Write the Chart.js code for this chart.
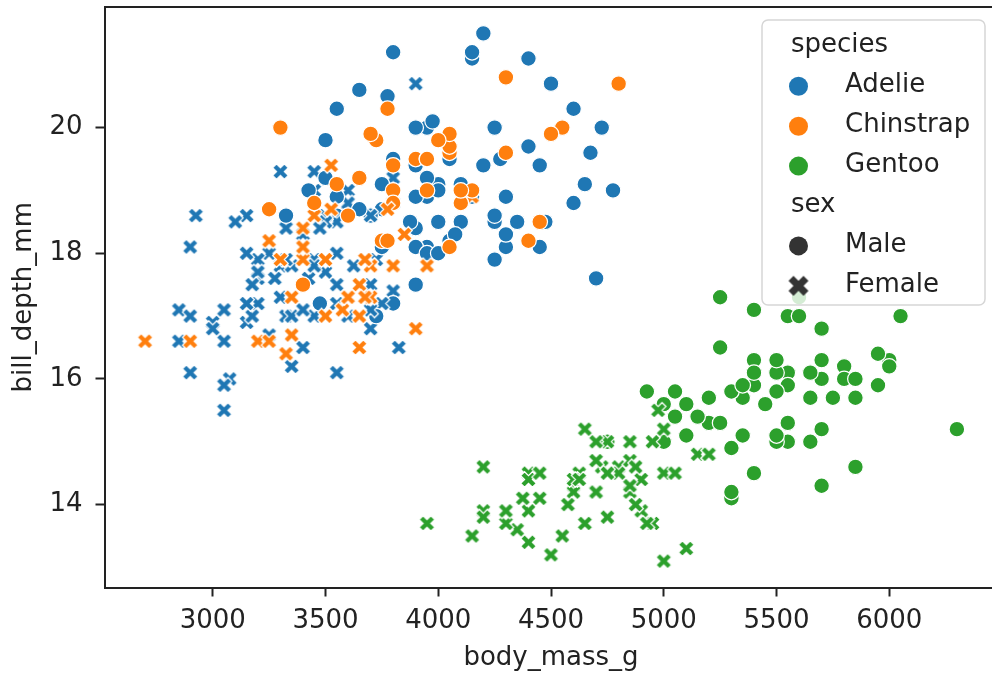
<!DOCTYPE html>
<html>
<head>
    <title>Penguins scatter</title>
    <script src="https://cdn.jsdelivr.net/npm/chart.js"></script>
    <style>
        html, body {
            margin: 0;
            padding: 0;
            background: #fff;
            overflow: hidden;
        }
        .viewport {
            width: 992px;
            height: 679px;
            overflow: hidden;
        }
        /* a little wider than the page: the right spine falls just outside, as in the reference */
        .chart-container {
            position: relative;
            width: 1000px;
            height: 679px;
        }
    </style>
</head>
<body>
    <div class="viewport">
        <div class="chart-container">
            <canvas id="penguinChart"></canvas>
        </div>
    </div>

    <script>
        // Adelie (rows with missing sex are left out, as in the reference)
        const adelieMass = [3750,3800,3250,3450,3650,3625,4675,3200,3800,4400,
            3700,3450,4500,3325,4200,3400,3600,3800,3950,3800,
            3800,3550,3200,3150,3950,3250,3900,3300,3900,3325,
            4150,3950,3550,3300,4650,3150,3900,3100,4400,3000,
            4600,3425,3450,4150,3500,4300,3450,4050,2900,3700,
            3550,3800,2850,3750,3150,4400,3600,4050,2850,3950,
            3350,4100,3050,4450,3600,3900,3550,4150,3700,4250,
            3700,3900,3550,4000,3200,4700,3800,4200,3350,3550,
            3800,3500,3950,3600,3550,4300,3400,4450,3300,4300,
            3700,4350,2900,4100,3725,4725,3075,4250,2925,3550,
            3750,3900,3175,4775,3825,4600,3200,4275,3900,4075,
            2900,3775,3350,3325,3150,3500,3450,3875,3050,4000,
            3275,4300,3050,4000,3325,3500,3500,4475,3425,3900,
            3175,3975,3400,4250,3400,3475,3050,3725,3000,3650,
            4250,3475,3450,3750,3700,4000];
        const adelieDepth = [18.7,17.4,18.0,19.3,20.6,17.8,19.6,17.6,21.2,21.1,
            17.8,19.0,20.7,18.4,21.5,18.3,18.7,19.2,18.1,17.2,
            18.9,18.6,17.9,18.6,18.9,16.7,18.1,17.8,18.9,17.0,
            21.1,20.0,18.5,19.3,19.1,18.0,18.4,18.5,19.7,16.9,
            18.8,19.0,17.9,21.2,17.7,18.9,17.9,19.5,18.1,18.6,
            17.5,18.8,16.6,19.1,16.9,21.1,17.0,18.2,17.1,18.0,
            16.2,19.1,16.6,19.4,19.0,18.4,17.2,18.9,17.5,18.5,
            16.8,19.4,16.1,19.1,17.2,17.6,18.8,19.4,17.8,20.3,
            19.5,18.6,19.2,18.8,18.0,18.1,17.1,18.1,17.3,18.9,
            18.6,18.5,16.1,18.5,17.9,20.0,16.0,20.0,18.6,18.9,
            17.2,20.0,17.0,19.0,16.5,20.3,17.7,19.5,20.7,18.3,
            17.0,20.5,17.0,18.6,17.2,19.8,17.0,18.5,15.9,19.0,
            17.6,18.3,17.1,18.0,17.9,19.2,18.5,18.5,17.6,17.5,
            17.5,20.1,16.5,17.9,17.1,17.2,15.5,17.0,16.8,18.7,
            18.6,18.4,17.8,18.1,17.1,18.5];
        const adelieSex = ['M','F','F','F','M','F','M','F','M','M',
            'F','F','M','F','M','F','M','F','M','M',
            'F','M','F','F','M','F','M','F','M','F',
            'M','M','F','F','M','F','M','F','M','F',
            'M','M','F','M','F','M','F','M','F','M',
            'F','M','F','M','F','M','F','M','F','M',
            'F','M','F','M','F','M','F','M','F','M',
            'F','M','F','M','F','M','F','M','F','M',
            'M','F','M','F','F','M','F','M','F','M',
            'F','M','F','M','F','M','F','M','F','M',
            'F','M','F','M','F','M','F','M','F','M',
            'F','M','F','M','F','M','F','M','F','M',
            'F','M','F','M','F','M','F','M','F','M',
            'F','M','F','M','F','M','F','M','F','M',
            'M','F','F','M','F','M'];

        // Chinstrap
        const chinstrapMass = [3500,3900,3650,3525,3725,3950,3250,3750,4150,3700,
            3800,3775,3700,4050,3575,4050,3300,3700,3450,4400,
            3600,3400,2900,3800,3300,4150,3400,3800,3700,4550,
            3200,4300,3350,4100,3600,3900,3850,4800,2700,4500,
            3950,3650,3550,3500,3675,4450,3400,4300,3250,3675,
            3325,3950,3600,4050,3350,3450,3250,4050,3800,3525,
            3950,3650,3650,4000,3400,3775,4100,3775];
        const chinstrapDepth = [17.9,19.5,19.2,18.7,19.8,17.8,18.2,18.2,18.9,19.9,
            17.8,20.3,17.3,18.1,17.1,19.6,20.0,17.8,18.6,18.2,
            17.3,17.5,16.6,19.4,17.9,19.0,18.4,19.0,17.8,20.0,
            16.6,20.8,16.7,18.8,18.6,16.8,18.3,20.7,16.6,19.9,
            19.5,17.5,19.1,17.0,17.9,18.5,17.9,19.6,18.7,17.3,
            16.4,19.0,17.3,19.7,17.3,18.8,16.6,19.9,18.8,19.4,
            19.5,16.5,17.0,19.8,18.1,18.2,19.0,18.7];
        const chinstrapSex = ['F','M','M','F','M','F','F','M','F','M',
            'F','M','F','M','F','M','M','F','F','M',
            'F','M','F','M','F','M','F','M','F','M',
            'F','M','F','M','M','F','F','M','F','M',
            'M','F','M','F','F','M','F','M','M','F',
            'F','M','F','M','F','M','F','M','M','F',
            'M','F','F','M','F','M','M','F'];

        // Gentoo
        const gentooMass = [4500,5700,4450,5700,5400,4550,4800,5200,4400,5150,
            4650,5550,4650,5850,4200,5850,4150,6300,4800,5350,
            5700,5000,4400,5050,5000,5100,
            5650,4600,5550,5250,4700,5050,6050,5150,5400,
            4950,5250,4350,5350,3950,5700,4300,4750,5550,4900,
            4200,5400,5100,5300,4850,5300,4400,5000,4900,5050,
            4300,5000,4450,5550,4200,5300,4400,5650,4700,5700,
            5800,4700,5550,4750,5000,5100,5200,4700,5800,4600,
            6000,4750,5950,4625,5450,4725,5350,4750,5600,4600,
            5300,4875,5550,4950,5400,4750,5650,4850,5200,4925,
            4875,4625,5250,4850,5600,4975,5500,
            5500,4700,5500,4575,5500,5000,5950,4650,5500,4375,
            5850,6000,4925,4850,5750,5200,5400];
        const gentooDepth = [13.2,16.3,14.1,15.2,14.5,13.5,14.6,15.3,13.4,15.4,
            13.7,16.1,13.7,14.6,14.6,15.7,13.5,15.2,14.5,15.1,
            14.3,14.5,14.5,15.8,13.1,15.1,
            15.0,14.3,15.3,15.3,14.2,14.5,17.0,14.8,16.3,
            13.7,17.3,13.6,15.7,13.7,16.0,13.7,15.0,15.9,13.9,
            13.9,15.9,13.3,15.8,14.2,14.1,14.4,15.0,14.4,15.4,
            13.9,15.0,14.5,15.3,13.8,14.9,13.9,15.7,14.2,16.8,
            16.2,14.2,15.0,15.0,15.6,15.6,14.8,15.0,16.0,14.2,
            16.3,13.8,16.4,14.5,15.6,14.6,15.9,13.8,17.3,14.4,
            14.2,14.0,17.0,15.0,17.1,14.5,16.1,14.7,15.7,15.8,
            14.6,14.4,16.5,15.0,17.0,15.5,15.0,
            16.1,14.7,15.8,14.0,15.1,15.2,15.9,15.2,16.3,14.1,
            16.0,16.2,13.7,14.3,15.7,14.8,16.1];
        const gentooSex = ['F','M','F','M','M','F','F','M','F','M',
            'F','M','F','M','F','M','F','M','F','M',
            'M','F','F','M','F','M',
            'M','F','M','M','F','F','M','F','M',
            'F','M','F','M','F','M','F','M','M','F',
            'F','M','F','M','F','M','F','M','F','M',
            'F','M','F','M','F','M','F','M','F','M',
            'M','F','M','F','M','M','F','F','M','F',
            'M','F','M','F','M','F','M','F','M','F',
            'M','F','M','F','M','F','M','F','M','M',
            'F','F','M','F','M','F','M',
            'M','F','M','F','M','F','M','F','M','F',
            'M','M','F','F','M','F','M'];

        const speciesNames = ['Adelie', 'Chinstrap', 'Gentoo'];
        const speciesColors = ['#1f77b4', '#ff7f0e', '#2ca02c'];
        const sexNames = ['Male', 'Female'];
        const xTicks = [3000, 3500, 4000, 4500, 5000, 5500, 6000];
        const yTicks = [14, 16, 18, 20];

        const FONT = "'DejaVu Sans', sans-serif";
        const TEXT = '#222';

        // filled "X" marker like matplotlib's 'X'
        function makeX(color, size, edge) {
            const c = document.createElement('canvas');
            const dim = Math.ceil(size + edge * 2 + 2);
            c.width = dim;
            c.height = dim;
            const g = c.getContext('2d');
            const pts = [[-1,-2],[0,-1],[1,-2],[2,-1],[1,0],[2,1],[1,2],[0,1],[-1,2],[-2,1],[-1,0],[-2,-1]];
            g.translate(dim / 2, dim / 2);
            g.beginPath();
            pts.forEach(([a, b], i) => {
                const px = a / 4 * size, py = b / 4 * size;
                if (i === 0) g.moveTo(px, py); else g.lineTo(px, py);
            });
            g.closePath();
            g.fillStyle = color;
            g.fill();
            if (edge > 0) {
                g.strokeStyle = '#fff';
                g.lineWidth = edge;
                g.stroke();
            }
            return c;
        }

        function makeDataset(name, color, mass, depth, sex, order) {
            const xImg = makeX(color, 15.6, 1.25);
            return {
                label: name,
                data: mass.map((m, i) => ({ x: m, y: depth[i] })),
                pointStyle: sex.map(s => s === 'M' ? 'circle' : xImg),
                pointRadius: 7.8,
                pointBackgroundColor: color,
                pointBorderColor: '#fff',
                pointBorderWidth: 1.25,
                order: order
            };
        }

        // no extra room for overhanging tick labels
        function noLabelPadding(s) {
            s.paddingTop = 0;
            s.paddingBottom = 0;
            s.paddingLeft = 0;
            s.paddingRight = 0;
        }

        const frameAndLegend = {
            id: 'frameAndLegend',
            afterDraw(chart) {
                const ctx = chart.ctx;
                const a = chart.chartArea;
                ctx.save();
                // top + right spines
                ctx.strokeStyle = TEXT;
                ctx.lineWidth = 2;
                ctx.beginPath();
                ctx.moveTo(a.left, a.top);
                ctx.lineTo(a.right, a.top);
                ctx.lineTo(a.right, a.bottom);
                ctx.stroke();

                // legend box
                const bx = 762, by = 20, bw = 223, bh = 285, r = 6;
                ctx.beginPath();
                ctx.moveTo(bx + r, by);
                ctx.arcTo(bx + bw, by, bx + bw, by + bh, r);
                ctx.arcTo(bx + bw, by + bh, bx, by + bh, r);
                ctx.arcTo(bx, by + bh, bx, by, r);
                ctx.arcTo(bx, by, bx + bw, by, r);
                ctx.closePath();
                ctx.fillStyle = 'rgba(255,255,255,0.8)';
                ctx.fill();
                ctx.strokeStyle = '#d6d6d6';
                ctx.lineWidth = 1.5;
                ctx.stroke();

                ctx.font = '26px ' + FONT;
                ctx.fillStyle = TEXT;
                ctx.textAlign = 'left';
                ctx.textBaseline = 'alphabetic';
                const titleX = 791, labelX = 845, markX = 798.5;
                const step = 39.9;
                ctx.fillText('species', titleX, 52.4);
                speciesNames.forEach((n, i) => {
                    const base = 92.3 + i * step;
                    ctx.fillStyle = speciesColors[i];
                    ctx.beginPath();
                    ctx.arc(markX, base - 6, 9.5, 0, Math.PI * 2);
                    ctx.fill();
                    ctx.fillStyle = TEXT;
                    ctx.fillText(n, labelX, base);
                });
                ctx.fillText('sex', titleX, 92.3 + 3 * step);
                const maleBase = 92.3 + 4 * step;
                ctx.fillStyle = '#333';
                ctx.beginPath();
                ctx.arc(markX, maleBase - 6, 9.5, 0, Math.PI * 2);
                ctx.fill();
                const femaleBase = 92.3 + 5 * step;
                const lx = makeX('#333', 20, 0);
                ctx.drawImage(lx, markX - lx.width / 2, femaleBase - 6 - lx.height / 2);
                ctx.fillStyle = TEXT;
                ctx.fillText(sexNames[0], labelX, maleBase);
                ctx.fillText(sexNames[1], labelX, femaleBase);
                ctx.restore();
            }
        };

        const ctx = document.getElementById('penguinChart').getContext('2d');
        const chart = new Chart(ctx, {
            type: 'scatter',
            data: {
                datasets: [
                    makeDataset(speciesNames[0], speciesColors[0], adelieMass, adelieDepth, adelieSex, 3),
                    makeDataset(speciesNames[1], speciesColors[1], chinstrapMass, chinstrapDepth, chinstrapSex, 2),
                    makeDataset(speciesNames[2], speciesColors[2], gentooMass, gentooDepth, gentooSex, 1)
                ]
            },
            options: {
                responsive: true,
                maintainAspectRatio: false,
                animation: false,
                events: [],
                layout: {
                    autoPadding: false,
                    padding: { left: 0, top: 7, right: 2.5, bottom: 0 }
                },
                plugins: {
                    legend: { display: false },
                    tooltip: { enabled: false }
                },
                scales: {
                    x: {
                        type: 'linear',
                        min: 2520,
                        max: 6480,
                        afterBuildTicks: s => { s.ticks = xTicks.map(v => ({ value: v })); },
                        afterFit: s => { s.height = 91.5; noLabelPadding(s); },
                        grid: {
                            display: true,
                            drawOnChartArea: false,
                            drawTicks: true,
                            tickLength: 9,
                            tickWidth: 2,
                            tickColor: TEXT
                        },
                        border: { display: true, color: TEXT, width: 2 },
                        ticks: {
                            color: TEXT,
                            font: { family: FONT, size: 26 },
                            padding: 9,
                            maxRotation: 0,
                            autoSkip: false,
                            callback: v => String(v)
                        },
                        title: {
                            display: true,
                            text: 'body_mass_g',
                            color: TEXT,
                            font: { family: FONT, size: 26 },
                            padding: { top: 0, bottom: 5 }
                        }
                    },
                    y: {
                        type: 'linear',
                        min: 12.68,
                        max: 21.92,
                        afterBuildTicks: s => { s.ticks = yTicks.map(v => ({ value: v })); },
                        afterFit: s => { s.width = 104.5; noLabelPadding(s); },
                        grid: {
                            display: true,
                            drawOnChartArea: false,
                            drawTicks: true,
                            tickLength: 9,
                            tickWidth: 2,
                            tickColor: TEXT
                        },
                        border: { display: true, color: TEXT, width: 2 },
                        ticks: {
                            color: TEXT,
                            font: { family: FONT, size: 26 },
                            padding: 13,
                            autoSkip: false,
                            callback: v => String(v)
                        },
                        title: {
                            display: true,
                            text: 'bill_depth_mm',
                            color: TEXT,
                            font: { family: FONT, size: 26 },
                            padding: { top: 8.7, bottom: 0 }
                        }
                    }
                }
            },
            plugins: [frameAndLegend]
        });
    </script>
</body>
</html>
